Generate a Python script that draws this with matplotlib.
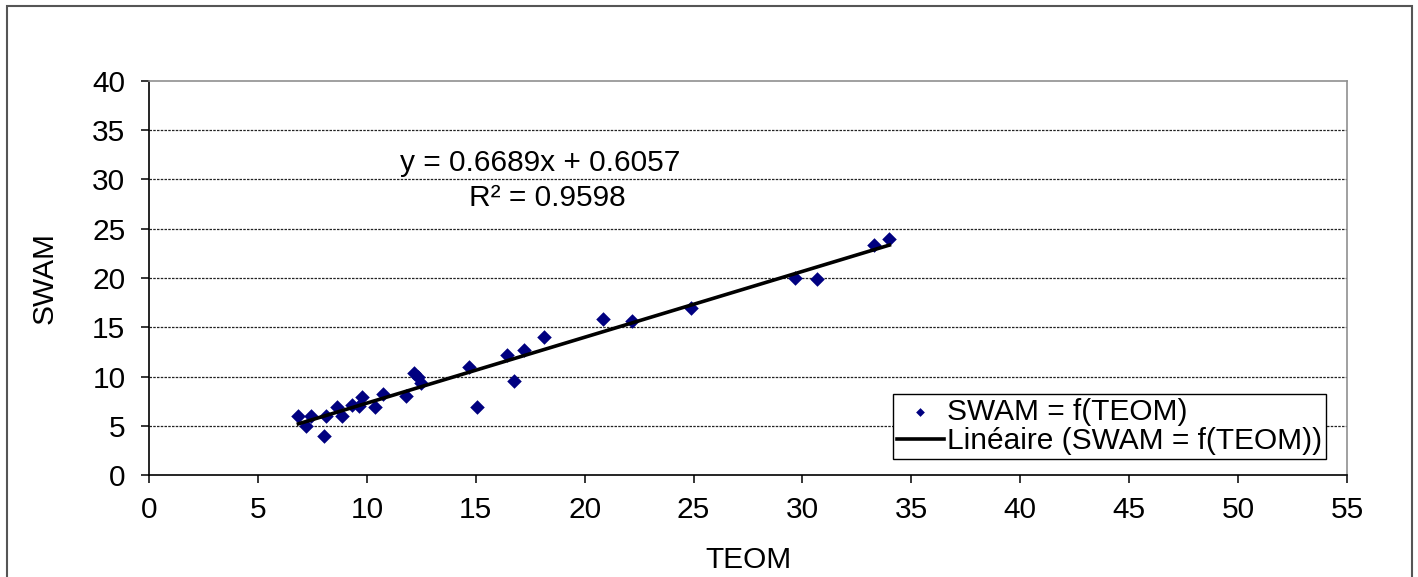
import numpy as np
import matplotlib.pyplot as plt
from matplotlib.patches import Rectangle

plt.rcParams['font.family'] = ['Liberation Sans', 'DejaVu Sans']

# TEOM / SWAM pairs
teom = [6.86, 7.19, 7.44, 8.03, 8.14, 8.62, 8.85, 9.31, 9.66, 9.79, 10.36,
        10.76, 11.78, 12.17, 12.37, 12.49, 14.71, 15.07, 16.45, 16.76, 17.22,
        18.15, 20.86, 22.19, 24.87, 29.66, 30.68, 33.29, 33.99]
swam = [6.02, 5.01, 6.02, 3.96, 6.02, 6.94, 5.99, 7.11, 7.00, 7.95, 6.94,
        8.19, 8.05, 10.32, 9.98, 9.30, 11.00, 6.94, 12.15, 9.51, 12.69,
        13.98, 15.87, 15.67, 16.92, 19.97, 19.87, 23.35, 23.93]
slope = 0.6689
intercept = 0.6057
r2 = 0.9598

xticks = np.arange(0, 56, 5)
yticks = np.arange(0, 41, 5)

fs = 21.5

fig = plt.figure(figsize=(14.18, 5.77), dpi=100)
ax = fig.add_axes([149/1418, 1-475/577, 1198/1418, 394/577])

# figure border (bottom cut off like the original)
fig.patches.append(Rectangle((7/1418, -0.1), (1412-7)/1418, 1.1 - 6/577,
                             transform=fig.transFigure, fill=False,
                             edgecolor='#555555', lw=1.5))

ax.scatter(teom, swam, marker='D', s=55, color='#000080', zorder=3,
           label='SWAM = f(TEOM)', linewidths=0)
xl = np.array([min(teom), max(teom)])
ax.plot(xl, slope*xl + intercept, color='black', lw=2.6, zorder=4,
        label='Linéaire (SWAM = f(TEOM))')

ax.set_xlim(0, 55)
ax.set_ylim(0, 40)
ax.set_xticks(xticks)
ax.set_yticks(yticks)
for y in yticks[1:-1]:
    ax.axhline(y, color='#222222', lw=0.9, ls=(0, (2, 1)), zorder=1)

ax.spines['top'].set_color('#909090')
ax.spines['right'].set_color('#909090')
ax.spines['left'].set_color('black')
ax.spines['bottom'].set_color('black')
for s in ax.spines.values():
    s.set_linewidth(1.2)
ax.tick_params(direction='out', length=6, width=1.1, labelsize=fs, color='black')
ax.tick_params(axis='y', pad=11)
ax.tick_params(axis='x', pad=9)

ax.set_xlabel('TEOM', fontsize=fs, labelpad=16)
ax.set_ylabel('SWAM', fontsize=fs, labelpad=24)

ax.text(17.95, 31.7, f'y = {slope}x + {intercept}', fontsize=fs, ha='center', va='center')
ax.text(18.3, 28.1, f'R² = {r2}', fontsize=fs, ha='center', va='center')

leg = ax.legend(loc='upper right', bbox_to_anchor=(0.9825, 0.2056), fontsize=fs,
                frameon=True, fancybox=False, edgecolor='black', framealpha=1,
                borderpad=0.12, labelspacing=0.05, handlelength=1.6,
                handletextpad=0.1, borderaxespad=0, scatterpoints=1,
                markerscale=0.6)
leg.get_frame().set_linewidth(1.0)

fig.savefig('out.png', dpi=100)
